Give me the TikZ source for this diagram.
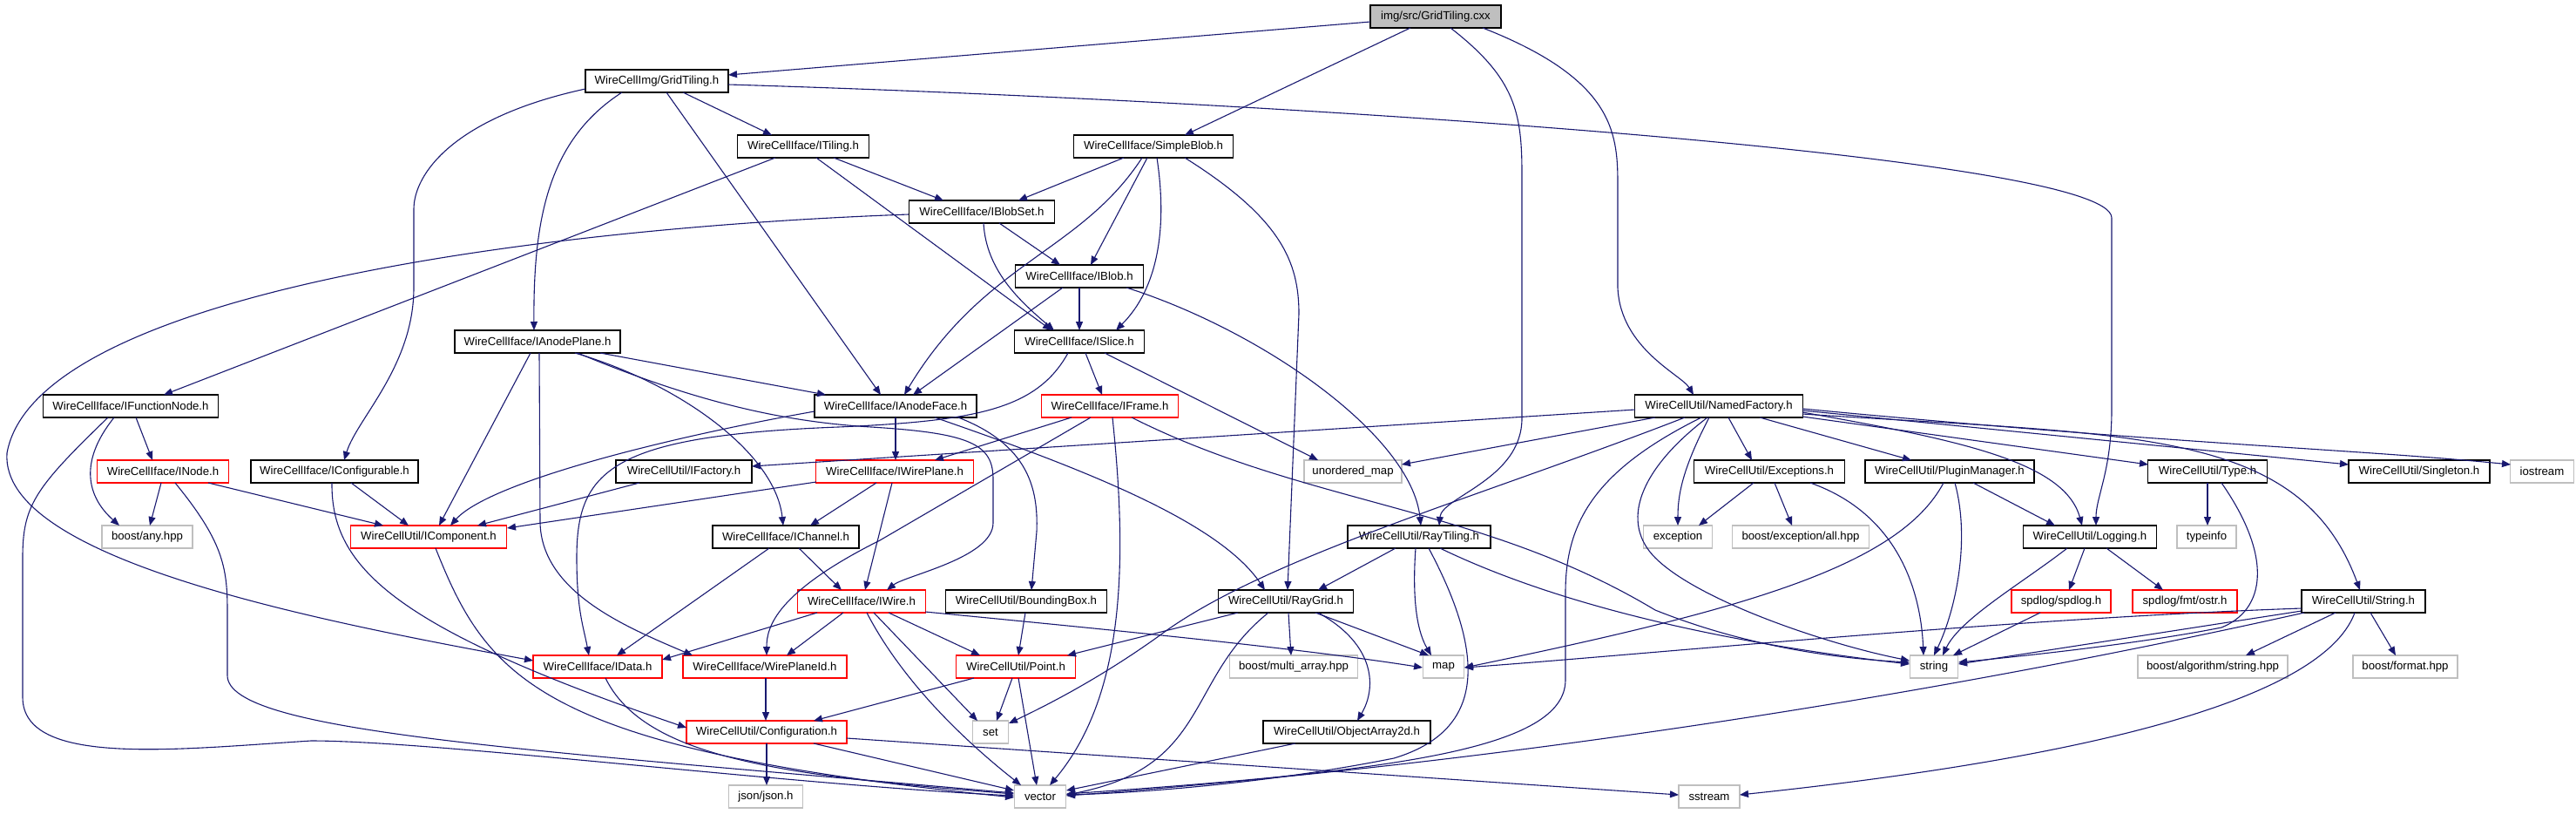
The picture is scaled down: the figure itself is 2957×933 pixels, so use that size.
\documentclass[tikz,border=0pt]{standalone}
\usepackage{fontspec}
\setmainfont{Liberation Sans}
\usetikzlibrary{arrows.meta,calc}
\definecolor{edgec}{HTML}{191970}
\definecolor{redb}{HTML}{FF0000}
\definecolor{grayb}{HTML}{BFBFBF}
\tikzset{
 box/.style={draw=black, fill=white, line width=0.55pt, inner sep=0pt, minimum height=13pt, font=\fontsize{6.6}{7}\selectfont},
 rbox/.style={box, draw=redb},
 gbox/.style={box, draw=grayb},
 rootbox/.style={box, fill=grayb},
 e/.style={draw=edgec, line width=0.55pt, -{Triangle[length=5pt,width=4pt]}}
}
\begin{document}
\begin{tikzpicture}[x=0.5pt,y=-0.5pt]
\path[use as bounding box] (0,0) rectangle (2957,933);
% nodes
\node[rootbox, minimum width=75pt] (cxx) at (1648,19) {img/src/GridTiling.cxx};
\node[box, minimum width=82pt] (gth) at (754,93) {WireCellImg/GridTiling.h};
\node[box, minimum width=75.5pt] (itiling) at (922,168) {WireCellIface/ITiling.h};
\node[box, minimum width=91.5pt] (simpleblob) at (1324,168) {WireCellIface/SimpleBlob.h};
\node[box, minimum width=83.5pt] (iblobset) at (1127,243) {WireCellIface/IBlobSet.h};
\node[box, minimum width=73.5pt] (iblob) at (1239,317) {WireCellIface/IBlob.h};
\node[box, minimum width=95pt] (ianodeplane) at (617,392) {WireCellIface/IAnodePlane.h};
\node[box, minimum width=74.5pt] (islice) at (1239,392) {WireCellIface/ISlice.h};
\node[box, minimum width=100.5pt] (ifunctionnode) at (150,466) {WireCellIface/IFunctionNode.h};
\node[box, minimum width=93pt] (ianodeface) at (1028,466) {WireCellIface/IAnodeFace.h};
\node[rbox, minimum width=78.5pt] (iframe) at (1274,466) {WireCellIface/IFrame.h};
\node[box, minimum width=96.5pt] (namedfactory) at (1973,466) {WireCellUtil/NamedFactory.h};
\node[rbox, minimum width=75.5pt] (inode) at (187,541) {WireCellIface/INode.h};
\node[box, minimum width=96pt] (iconfigurable) at (384,541) {WireCellIface/IConfigurable.h};
\node[box, minimum width=78pt] (ifactory) at (785,541) {WireCellUtil/IFactory.h};
\node[rbox, minimum width=90.5pt] (iwireplane) at (1027,541) {WireCellIface/IWirePlane.h};
\node[gbox, minimum width=56pt] (unorderedmap) at (1553,541) {unordered\_map};
\node[box, minimum width=86.5pt] (exceptions) at (2031,541) {WireCellUtil/Exceptions.h};
\node[box, minimum width=97pt] (pluginmanager) at (2238,541) {WireCellUtil/PluginManager.h};
\node[box, minimum width=68.5pt] (type) at (2534,541) {WireCellUtil/Type.h};
\node[box, minimum width=81pt] (singleton) at (2777,541) {WireCellUtil/Singleton.h};
\node[gbox, minimum width=36.5pt] (iostream) at (2918,541) {iostream};
\node[gbox, minimum width=52pt] (boostany) at (169,616) {boost/any.hpp};
\node[rbox, minimum width=89.5pt] (icomponent) at (492,616) {WireCellUtil/IComponent.h};
\node[box, minimum width=84pt] (ichannel) at (902,616) {WireCellIface/IChannel.h};
\node[box, minimum width=82pt] (raytiling) at (1629,616) {WireCellUtil/RayTiling.h};
\node[gbox, minimum width=39.5pt] (exception) at (1926,616) {exception};
\node[gbox, minimum width=78.5pt] (boostexc) at (2067,616) {boost/exception/all.hpp};
\node[box, minimum width=76.5pt] (logging) at (2399,616) {WireCellUtil/Logging.h};
\node[gbox, minimum width=34pt] (typeinfo) at (2533,616) {typeinfo};
\node[rbox, minimum width=73.5pt] (iwire) at (989,690) {WireCellIface/IWire.h};
\node[box, minimum width=92.5pt] (boundingbox) at (1178,690) {WireCellUtil/BoundingBox.h};
\node[box, minimum width=77.5pt] (raygrid) at (1476,690) {WireCellUtil/RayGrid.h};
\node[rbox, minimum width=57pt] (spdlog) at (2366,690) {spdlog/spdlog.h};
\node[rbox, minimum width=60pt] (fmtostr) at (2508,690) {spdlog/fmt/ostr.h};
\node[box, minimum width=71pt] (stringh) at (2713,690) {WireCellUtil/String.h};
\node[rbox, minimum width=74pt] (idata) at (686,765) {WireCellIface/IData.h};
\node[rbox, minimum width=94pt] (wireplaneid) at (878,765) {WireCellIface/WirePlaneId.h};
\node[rbox, minimum width=68.5pt] (point) at (1166,765) {WireCellUtil/Point.h};
\node[gbox, minimum width=73.5pt] (multiarray) at (1485,765) {boost/multi\_array.hpp};
\node[gbox, minimum width=23.5pt] (map) at (1657,765) {map};
\node[gbox, minimum width=27.5pt] (string) at (2220,765) {string};
\node[gbox, minimum width=86pt] (algstring) at (2540,765) {boost/algorithm/string.hpp};
\node[gbox, minimum width=60pt] (format) at (2761,765) {boost/format.hpp};
\node[rbox, minimum width=92pt] (configuration) at (880,840) {WireCellUtil/Configuration.h};
\node[gbox, minimum width=20.5pt] (set) at (1137,840) {set};
\node[box, minimum width=96pt] (objarray) at (1546,840) {WireCellUtil/ObjectArray2d.h};
\node[gbox, minimum width=42.5pt] (json) at (879,914) {json/json.h};
\node[gbox, minimum width=29.5pt] (vector) at (1194,914) {vector};
\node[gbox, minimum width=35pt] (sstream) at (1962,914) {sstream};
% edges from cxx
\draw[e] ($(cxx)+(-75,6)$) -- ($(gth)+(82,-7)$);
\draw[e] ($(cxx)+(-29,13)$) -- ($(simpleblob)+(36,-13)$);
\draw[e] ($(cxx)+(17,13)$) .. controls (1740,90) and (1747,130) .. (1747,200) -- (1747,480) .. controls (1747,550) and (1655,570) .. ($(raytiling)+(23,-13)$);
\draw[e] ($(cxx)+(54,13)$) .. controls (1850,90) and (1857,150) .. (1857,210) -- (1857,330) .. controls (1860,400) and (1930,430) .. ($(namedfactory)+(-29,-13)$);
% GridTiling.h
\draw[e] ($(gth)+(30,13)$) -- ($(itiling)+(-36,-13)$);
\draw[e] ($(gth)+(-40,13)$) .. controls (630,160) and (612,250) .. ($(ianodeplane)+(-4,-13)$);
\draw[e] ($(gth)+(-82,9)$) .. controls (520,135) and (475,200) .. (475,240) -- (475,330) .. controls (475,420) and (410,480) .. ($(iconfigurable)+(11,-13)$);
\draw[e] ($(gth)+(11,13)$) -- ($(ianodeface)+(-17,-13)$);
\draw[e] ($(gth)+(82,4)$) .. controls (1500,117) and (2424,180) .. (2424,250) -- (2424,470) .. controls (2424,540) and (2406,570) .. ($(logging)+(7,-13)$);
% ITiling
\draw[e] ($(itiling)+(-32,13)$) -- ($(ifunctionnode)+(38,-13)$);
\draw[e] ($(itiling)+(35,13)$) -- ($(iblobset)+(-44,-13)$);
\draw[e] ($(itiling)+(15,13)$) -- ($(islice)+(-32,-13)$);
% SimpleBlob
\draw[e] ($(simpleblob)+(-34,13)$) -- ($(iblobset)+(42,-13)$);
\draw[e] ($(simpleblob)+(-13,13)$) .. controls (1240,290) and (1130,300) .. ($(ianodeface)+(10,-13)$);
\draw[e] ($(simpleblob)+(-7,13)$) -- ($(iblob)+(13,-13)$);
\draw[e] ($(simpleblob)+(4,13)$) .. controls (1340,260) and (1330,330) .. ($(islice)+(42,-13)$);
\draw[e] ($(simpleblob)+(36,13)$) .. controls (1470,250) and (1491,300) .. (1491,360) -- ($(raygrid)+(2,-13)$);
% IBlobSet
\draw[e] ($(iblobset)+(-84,3)$) .. controls (600,262) and (40,340) .. (8,520) .. controls (0,640) and (350,710) .. ($(idata)+(-74,-7)$);
\draw[e] ($(iblobset)+(20,13)$) -- ($(iblob)+(-22,-13)$);
\draw[e] ($(iblobset)+(2,13)$) .. controls (1132,310) and (1170,345) .. ($(islice)+(-29,-13)$);
% IBlob
\draw[e] ($(iblob)+(0,13)$) -- ($(islice)+(0,-13)$);
\draw[e] ($(iblob)+(-19,13)$) -- ($(ianodeface)+(20,-13)$);
\draw[e] ($(iblob)+(54,13)$) .. controls (1450,380) and (1620,500) .. ($(raytiling)+(2,-13)$);
% ISlice
\draw[e] ($(islice)+(7,13)$) -- ($(iframe)+(-9,-13)$);
\draw[e] ($(islice)+(29,13)$) -- ($(unorderedmap)+(-40,-13)$);
\draw[e] ($(islice)+(-13,13)$) .. controls (1190,470) and (1120,483) .. (962,490) .. controls (700,500) and (662,540) .. (662,640) .. controls (662,700) and (670,720) .. ($(idata)+(-10,-13)$);
% IAnodePlane
\draw[e] ($(ianodeplane)+(72,13)$) -- ($(ianodeface)+(-80,-13)$);
\draw[e] ($(ianodeplane)+(-8,13)$) -- ($(icomponent)+(12,-13)$);
\draw[e] ($(ianodeplane)+(43,13)$) .. controls (780,440) and (890,520) .. ($(ichannel)+(-3,-13)$);
\draw[e] ($(ianodeplane)+(2,13)$) -- (620,600) .. controls (622,680) and (720,720) .. ($(wireplaneid)+(-83,-13)$);
\draw[e] ($(ianodeplane)+(46,13)$) .. controls (800,462) and (900,484) .. (1000,490) .. controls (1115,497) and (1140,510) .. (1140,550) -- (1140,600) .. controls (1140,640) and (1040,660) .. ($(iwire)+(29,-13)$);
% IAnodeFace
\draw[e] ($(ianodeface)+(0,13)$) -- ($(iwireplane)+(1,-13)$);
\draw[e] ($(ianodeface)+(-93,6)$) .. controls (750,505) and (560,555) .. ($(icomponent)+(25,-13)$);
\draw[e] ($(ianodeface)+(72,13)$) .. controls (1180,510) and (1192,560) .. (1190,610) -- ($(boundingbox)+(6,-13)$);
\draw[e] ($(ianodeface)+(45,13)$) .. controls (1250,540) and (1400,600) .. ($(raygrid)+(-24,-13)$);
% IWirePlane, IFactory, INode, IFunctionNode, IConfigurable
\draw[e] ($(iwireplane)+(-90,12)$) -- ($(icomponent)+(90,-10)$);
\draw[e] ($(iwireplane)+(-21,13)$) -- ($(ichannel)+(28,-13)$);
\draw[e] ($(iwireplane)+(-3,13)$) -- ($(iwire)+(4,-13)$);
\draw[e] ($(ifactory)+(-51,13)$) -- ($(icomponent)+(56,-13)$);
\draw[e] ($(inode)+(-2,13)$) -- ($(boostany)+(3,-13)$);
\draw[e] ($(inode)+(52,13)$) -- ($(icomponent)+(-52,-13)$);
\draw[e] ($(inode)+(14,13)$) .. controls (255,620) and (261,650) .. (261,700) -- (261,775) .. controls (261,840) and (600,860) .. ($(vector)+(-30,-4)$);
\draw[e] ($(ifunctionnode)+(6,13)$) -- ($(inode)+(-12,-13)$);
\draw[e] ($(ifunctionnode)+(-19,13)$) .. controls (90,530) and (100,570) .. ($(boostany)+(-32,-13)$);
\draw[e] ($(ifunctionnode)+(-26,13)$) .. controls (40,560) and (26,580) .. (26,640) -- (26,800) .. controls (26,880) and (200,860) .. (357,850) .. controls (500,850) and (900,900) .. ($(vector)+(-30,-1)$);
\draw[e] ($(iconfigurable)+(19,13)$) -- ($(icomponent)+(-23,-13)$);
\draw[e] ($(iconfigurable)+(-3,13)$) .. controls (380,650) and (450,720) .. ($(configuration)+(-92,-5)$);
\draw[e] ($(icomponent)+(8,13)$) .. controls (560,780) and (620,860) .. ($(vector)+(-30,1)$);
\draw[e] ($(idata)+(9,13)$) .. controls (740,870) and (900,890) .. ($(vector)+(-30,-3)$);
\draw[e] ($(wireplaneid)+(1,13)$) -- ($(configuration)+(-1,-13)$);
% IChannel, IWire
\draw[e] ($(ichannel)+(-19,13)$) -- ($(idata)+(22,-13)$);
\draw[e] ($(ichannel)+(15,13)$) -- ($(iwire)+(-23,-13)$);
\draw[e] ($(iwire)+(-51,13)$) -- ($(idata)+(74,-8)$);
\draw[e] ($(iwire)+(-21,13)$) -- ($(wireplaneid)+(25,-13)$);
\draw[e] ($(iwire)+(31,13)$) -- ($(point)+(-41,-13)$);
\draw[e] ($(iwire)+(14,13)$) -- ($(set)+(-15,-13)$);
\draw[e] ($(iwire)+(6,13)$) .. controls (1040,790) and (1120,860) .. ($(vector)+(-22,-13)$);
\draw[e] ($(iwire)+(73,12)$) .. controls (1300,725) and (1500,745) .. ($(map)+(-24,1)$);
% BoundingBox, Point
\draw[e] ($(boundingbox)+(-1,13)$) -- ($(point)+(3,-13)$);
\draw[e] ($(point)+(-48,13)$) -- ($(configuration)+(54,-13)$);
\draw[e] ($(point)+(-4,13)$) -- ($(set)+(7,-13)$);
\draw[e] ($(point)+(3,13)$) -- ($(vector)+(-4,-13)$);
% RayGrid
\draw[e] ($(raygrid)+(-55,13)$) -- ($(point)+(59,-13)$);
\draw[e] ($(raygrid)+(-20,13)$) .. controls (1360,780) and (1390,880) .. ($(vector)+(30,-2)$);
\draw[e] ($(raygrid)+(3,13)$) -- ($(multiarray)+(-3,-13)$);
\draw[e] ($(raygrid)+(34,13)$) -- ($(map)+(-17,-13)$);
\draw[e] ($(raygrid)+(37,13)$) .. controls (1580,740) and (1580,790) .. ($(objarray)+(12,-13)$);
\draw[e] ($(objarray)+(-59,13)$) -- ($(vector)+(30,-7)$);
% Configuration
\draw[e] ($(configuration)+(0,13)$) -- ($(json)+(1,-13)$);
\draw[e] ($(configuration)+(54,13)$) -- ($(vector)+(-30,-7)$);
\draw[e] ($(configuration)+(92,7)$) -- ($(sstream)+(-35,-2)$);
% IFrame
\draw[e] ($(iframe)+(-44,13)$) -- ($(iwireplane)+(46,-13)$);
\draw[e] ($(iframe)+(-22,13)$) -- (1010,620) .. controls (890,680) and (880,720) .. ($(wireplaneid)+(2,-13)$);
\draw[e] ($(iframe)+(3,13)$) .. controls (1295,650) and (1290,800) .. ($(vector)+(11,-13)$);
\draw[e] ($(iframe)+(25,13)$) .. controls (1500,580) and (1700,580) .. (1900,700) .. controls (2000,740) and (2100,755) .. ($(string)+(-28,-5)$);
% RayTiling
\draw[e] ($(raytiling)+(-27,13)$) -- ($(raygrid)+(37,-13)$);
\draw[e] ($(raytiling)+(-4,13)$) .. controls (1620,700) and (1630,730) .. ($(map)+(-14,-13)$);
\draw[e] ($(raytiling)+(11,13)$) .. controls (1710,760) and (1700,840) .. (1600,870) .. controls (1450,900) and (1300,910) .. ($(vector)+(30,-2)$);
\draw[e] ($(raytiling)+(24,13)$) .. controls (1800,700) and (2000,740) .. ($(string)+(-28,-3)$);
% NamedFactory
\draw[e] ($(namedfactory)+(-96,4)$) -- ($(ifactory)+(78,-6)$);
\draw[e] ($(namedfactory)+(-73,13)$) -- ($(unorderedmap)+(56,-8)$);
\draw[e] ($(namedfactory)+(-39,13)$) .. controls (1700,570) and (1450,640) .. (1330,730) .. controls (1260,780) and (1200,810) .. ($(set)+(21,-10)$);
\draw[e] ($(namedfactory)+(-20,13)$) .. controls (1830,540) and (1797,600) .. (1797,680) -- (1797,780) .. controls (1797,860) and (1600,885) .. ($(vector)+(30,-3)$);
\draw[e] ($(namedfactory)+(-13,13)$) .. controls (1880,540) and (1860,600) .. (1900,640) .. controls (1950,690) and (2100,740) .. ($(string)+(-28,-7)$);
\draw[e] ($(namedfactory)+(-11,13)$) .. controls (1930,540) and (1926,570) .. ($(exception)+(0,-13)$);
\draw[e] ($(namedfactory)+(11,13)$) -- ($(exceptions)+(-20,-13)$);
\draw[e] ($(namedfactory)+(47,13)$) -- ($(pluginmanager)+(-44,-13)$);
\draw[e] ($(namedfactory)+(96,7)$) .. controls (2250,505) and (2370,530) .. ($(logging)+(-9,-13)$);
\draw[e] ($(namedfactory)+(96,12)$) -- ($(type)+(-68,-8)$);
\draw[e] ($(namedfactory)+(96,5)$) -- ($(singleton)+(-81,-8)$);
\draw[e] ($(namedfactory)+(96,3)$) .. controls (2500,510) and (2700,515) .. ($(iostream)+(-36,-8)$);
\draw[e] ($(namedfactory)+(96,9)$) .. controls (2450,500) and (2640,490) .. ($(stringh)+(-4,-13)$);
% Exceptions, PluginManager, Logging, Type
\draw[e] ($(exceptions)+(-18,13)$) -- ($(exception)+(24,-13)$);
\draw[e] ($(exceptions)+(6,13)$) -- ($(boostexc)+(-10,-13)$);
\draw[e] ($(exceptions)+(47,13)$) .. controls (2180,590) and (2205,680) .. ($(string)+(-12,-13)$);
\draw[e] ($(pluginmanager)+(27,13)$) -- ($(logging)+(-40,-13)$);
\draw[e] ($(pluginmanager)+(6,13)$) .. controls (2262,620) and (2245,700) .. ($(string)+(0,-13)$);
\draw[e] ($(pluginmanager)+(-7,13)$) .. controls (2180,650) and (2000,700) .. ($(map)+(24,1)$);
\draw[e] ($(logging)+(-26,13)$) .. controls (2320,670) and (2250,710) .. ($(string)+(10,-13)$);
\draw[e] ($(logging)+(-6,13)$) -- ($(spdlog)+(9,-13)$);
\draw[e] ($(logging)+(19,13)$) -- ($(fmtostr)+(-25,-13)$);
\draw[e] ($(spdlog)+(-24,13)$) -- ($(string)+(22,-13)$);
\draw[e] ($(type)+(0,13)$) -- ($(typeinfo)+(1,-13)$);
\draw[e] ($(type)+(16,13)$) .. controls (2610,640) and (2600,700) .. (2550,720) .. controls (2450,740) and (2300,755) .. ($(string)+(28,-5)$);
% String.h
\draw[e] ($(stringh)+(-71,11)$) -- ($(string)+(28,-3)$);
\draw[e] ($(stringh)+(-71,8)$) .. controls (2300,710) and (1900,750) .. ($(map)+(24,1)$);
\draw[e] ($(stringh)+(-68,13)$) .. controls (2300,780) and (1800,870) .. ($(vector)+(30,-1)$);
\draw[e] ($(stringh)+(-32,13)$) -- ($(algstring)+(38,-13)$);
\draw[e] ($(stringh)+(8,13)$) -- ($(format)+(-11,-13)$);
\draw[e] ($(stringh)+(-10,13)$) .. controls (2660,820) and (2300,880) .. ($(sstream)+(35,-2)$);
\end{tikzpicture}
\end{document}
